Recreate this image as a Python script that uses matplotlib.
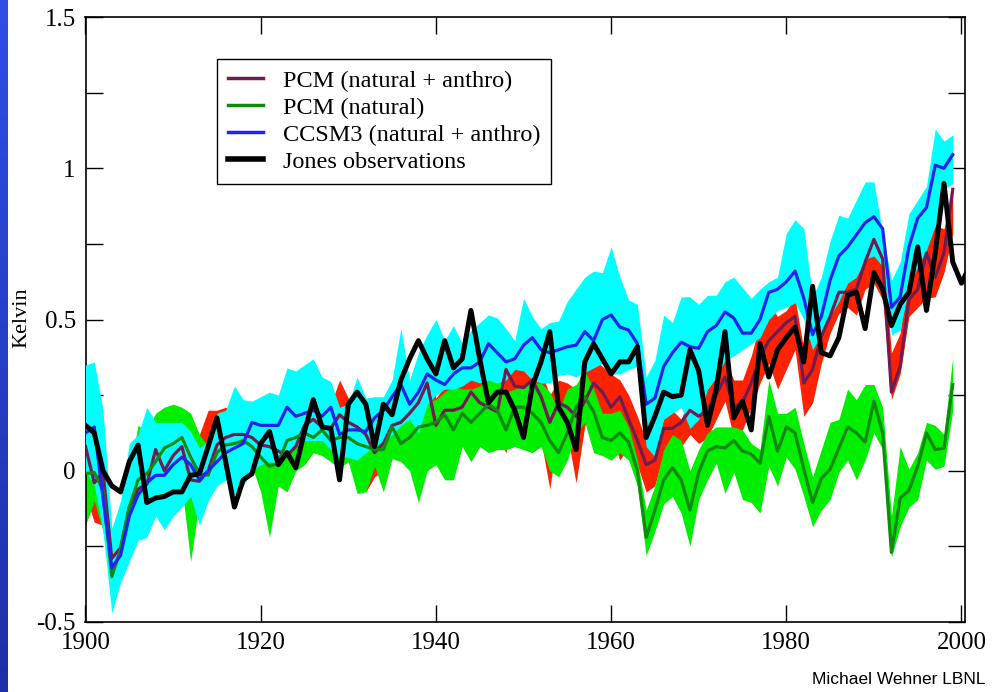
import numpy as np
import matplotlib
matplotlib.use("Agg")
import matplotlib.pyplot as plt
from matplotlib.ticker import MultipleLocator, FuncFormatter, FixedLocator
from matplotlib.lines import Line2D
from matplotlib.colors import LinearSegmentedColormap

# ---------------- data ----------------
years = list(range(1900, 2000))
obs_years = list(range(1900, 2002))

jones_obs = [
    0.15, 0.125, 0.0, -0.05, -0.07, 0.03, 0.085, -0.105, -0.09, -0.085,
    -0.07, -0.07, -0.015, -0.01, 0.08, 0.175, 0.03, -0.12, -0.03, -0.01,
    0.09, 0.13, 0.02, 0.06, 0.01, 0.13, 0.235, 0.145, 0.14, -0.03,
    0.22, 0.26, 0.22, 0.08, 0.22, 0.185, 0.3, 0.37, 0.43, 0.37,
    0.32, 0.43, 0.34, 0.37, 0.53, 0.37, 0.225, 0.26, 0.26, 0.2,
    0.11, 0.28, 0.36, 0.46, 0.21, 0.16, 0.07, 0.36, 0.42, 0.37,
    0.32, 0.36, 0.36, 0.41, 0.11, 0.18, 0.26, 0.245, 0.25, 0.40,
    0.33, 0.15, 0.27, 0.46, 0.175, 0.23, 0.135, 0.42, 0.31, 0.40,
    0.44, 0.475, 0.36, 0.61, 0.39, 0.38, 0.44, 0.58, 0.59, 0.47,
    0.655, 0.6, 0.48, 0.55, 0.59, 0.74, 0.53, 0.72, 0.95, 0.69,
    0.62, 0.68,
]

ccsm3_mean = [
    0.125, 0.145, -0.09, -0.32, -0.28, -0.15, -0.08, -0.04, -0.015, -0.015,
    0.02, 0.045, 0.02, -0.03, 0.0, 0.03, 0.06, 0.075, 0.09, 0.16,
    0.15, 0.15, 0.15, 0.21, 0.18, 0.19, 0.2, 0.18, 0.21, 0.12,
    0.135, 0.135, 0.13, 0.175, 0.2, 0.245, 0.285, 0.22, 0.26, 0.32,
    0.30, 0.285, 0.32, 0.34, 0.34, 0.36, 0.42, 0.39, 0.36, 0.37,
    0.415, 0.44, 0.40, 0.39, 0.40, 0.41, 0.415, 0.46, 0.43, 0.5,
    0.515, 0.475, 0.465, 0.42, 0.22, 0.24, 0.345, 0.39, 0.425, 0.41,
    0.405, 0.46, 0.48, 0.525, 0.505, 0.455, 0.455, 0.5, 0.59, 0.6,
    0.625, 0.66, 0.57, 0.45, 0.51, 0.63, 0.71, 0.74, 0.78, 0.82,
    0.84, 0.80, 0.54, 0.575, 0.74, 0.835, 0.87, 1.01, 1.0, 1.045,
]
ccsm3_upper = [
    0.35, 0.36, 0.2, -0.19, -0.1, 0.09, 0.12, 0.21, 0.16, 0.16,
    0.16, 0.16, 0.13, 0.075, 0.1, 0.19, 0.2, 0.28, 0.235, 0.23,
    0.245, 0.26, 0.25, 0.34, 0.33, 0.35, 0.37, 0.31, 0.295, 0.21,
    0.22, 0.31, 0.24, 0.245, 0.245, 0.3, 0.47, 0.3, 0.39, 0.45,
    0.5, 0.43, 0.48, 0.42, 0.465, 0.49, 0.515, 0.505, 0.47, 0.43,
    0.57, 0.51, 0.47, 0.49, 0.495, 0.56, 0.6, 0.64, 0.66, 0.655,
    0.74, 0.64, 0.565, 0.55, 0.31, 0.365, 0.515, 0.49, 0.575, 0.575,
    0.55, 0.58, 0.58, 0.625, 0.64, 0.605, 0.57, 0.6, 0.625, 0.64,
    0.785, 0.83, 0.8, 0.575, 0.64, 0.76, 0.845, 0.835, 0.895, 0.955,
    0.955, 0.785, 0.63, 0.69, 0.85, 0.895, 0.94, 1.13, 1.09, 1.11,
]
ccsm3_lower = [
    0.0, -0.05, -0.2, -0.47, -0.37, -0.3, -0.23, -0.22, -0.15, -0.195,
    -0.15, -0.12, -0.085, -0.18, -0.1, -0.05, -0.03, -0.08, -0.05, 0.0,
    0.02, 0.03, 0.025, 0.06, 0.08, 0.1, 0.1, 0.1, 0.07, 0.045,
    0.045, 0.035, 0.06, 0.08, 0.1, 0.12, 0.15, 0.17, 0.125, 0.22,
    0.25, 0.27, 0.27, 0.28, 0.3, 0.29, 0.3, 0.29, 0.3, 0.335,
    0.33, 0.3, 0.29, 0.29, 0.315, 0.32, 0.31, 0.325, 0.34, 0.355,
    0.32, 0.32, 0.335, 0.345, 0.08, 0.045, 0.17, 0.19, 0.21, 0.14,
    0.17, 0.27, 0.31, 0.365, 0.38, 0.4, 0.42, 0.44, 0.5, 0.53,
    0.54, 0.555, 0.5, 0.4, 0.45, 0.51, 0.56, 0.62, 0.64, 0.7,
    0.71, 0.675, 0.45, 0.465, 0.61, 0.675, 0.73, 0.81, 0.93, 0.95,
]

pcm_all_mean = [
    0.08, -0.04, -0.005, -0.29, -0.255, -0.12, -0.06, -0.045, 0.07, 0.0,
    0.05, 0.08, -0.03, -0.035, 0.0, 0.085, 0.11, 0.12, 0.12, 0.11,
    0.085, 0.08, 0.065, 0.05, 0.08, 0.15, 0.17, 0.145, 0.14, 0.185,
    0.16, 0.145, 0.12, 0.06, 0.09, 0.15, 0.16, 0.19, 0.225, 0.29,
    0.15, 0.2, 0.2, 0.21, 0.26, 0.225, 0.21, 0.195, 0.335, 0.28,
    0.275, 0.3, 0.245, 0.16, 0.225, 0.21, 0.18, 0.23, 0.29, 0.26,
    0.21, 0.245, 0.17, 0.1, 0.02, 0.035, 0.14, 0.14, 0.16, 0.2,
    0.18, 0.2, 0.25, 0.31, 0.21, 0.225, 0.29, 0.375, 0.43, 0.46,
    0.49, 0.51, 0.29, 0.335, 0.445, 0.51, 0.59, 0.59, 0.6, 0.69,
    0.765, 0.7, 0.26, 0.345, 0.565, 0.6, 0.72, 0.64, 0.72, 0.93,
]
pcm_all_upper = [
    0.15, 0.05, 0.08, -0.2, -0.17, -0.03, 0.03, 0.05, 0.15, 0.08,
    0.12, 0.15, 0.05, 0.12, 0.2, 0.2, 0.21, 0.2, 0.2, 0.19,
    0.17, 0.16, 0.15, 0.13, 0.16, 0.23, 0.25, 0.23, 0.22, 0.3,
    0.24, 0.23, 0.2, 0.14, 0.17, 0.23, 0.24, 0.27, 0.3, 0.37,
    0.24, 0.28, 0.28, 0.31, 0.34, 0.3, 0.29, 0.28, 0.46, 0.36,
    0.35, 0.38, 0.33, 0.25, 0.3, 0.29, 0.27, 0.36, 0.37, 0.345,
    0.32, 0.3, 0.25, 0.18, 0.1, 0.12, 0.2, 0.2, 0.17, 0.25,
    0.24, 0.27, 0.31, 0.37, 0.3, 0.3, 0.38, 0.49, 0.555, 0.51,
    0.53, 0.57, 0.4, 0.465, 0.53, 0.58, 0.66, 0.63, 0.68, 0.73,
    0.8, 0.74, 0.39, 0.455, 0.71, 0.785, 0.8, 0.81, 0.8, 0.945,
]
pcm_all_lower = [
    -0.08, -0.17, -0.18, -0.38, -0.33, -0.2, -0.13, -0.12, -0.02, -0.07,
    -0.03, 0.0, -0.1, -0.13, -0.08, 0.0, 0.03, 0.04, 0.04, 0.03,
    0.0, 0.0, -0.01, -0.03, 0.0, 0.07, 0.09, 0.06, 0.06, 0.1,
    0.08, 0.06, -0.07, -0.02, 0.0, 0.04, 0.08, 0.1, 0.14, 0.2,
    0.09, 0.12, 0.12, 0.13, 0.18, 0.15, 0.13, 0.11, 0.06, 0.2,
    0.19, 0.2, 0.1, -0.06, 0.14, 0.12, -0.04, 0.15, 0.2, 0.17,
    0.12, 0.035, 0.08, 0.02, -0.07, -0.05, 0.06, 0.07, 0.08, 0.12,
    0.09, 0.11, 0.17, 0.23, 0.11, 0.135, 0.21, 0.29, 0.355, 0.27,
    0.335, 0.4, 0.18, 0.225, 0.355, 0.455, 0.52, 0.54, 0.515, 0.6,
    0.62, 0.565, 0.235, 0.32, 0.51, 0.54, 0.57, 0.575, 0.655, 0.785,
]

pcm_nat_mean = [
    -0.01, -0.005, -0.065, -0.35, -0.26, -0.12, -0.03, -0.01, 0.03, 0.075,
    0.09, 0.11, 0.045, -0.01, -0.015, 0.06, 0.085, 0.09, 0.1, 0.08,
    0.045, 0.015, 0.025, 0.1, 0.11, 0.125, 0.11, 0.135, 0.1, 0.11,
    0.11, 0.09, 0.08, 0.07, 0.07, 0.145, 0.09, 0.11, 0.145, 0.15,
    0.16, 0.185, 0.135, 0.19, 0.16, 0.19, 0.22, 0.2, 0.135, 0.21,
    0.21, 0.19, 0.16, 0.1, 0.06, 0.125, 0.21, 0.245, 0.195, 0.11,
    0.1, 0.125, 0.095, 0.0, -0.22, -0.13, -0.03, 0.01, -0.03, -0.13,
    -0.005, 0.065, 0.08, 0.075, 0.1, 0.065, 0.055, 0.025, 0.18, 0.065,
    0.145, 0.125, 0.005, -0.105, -0.025, 0.005, 0.075, 0.145, 0.125, 0.095,
    0.23, 0.125, -0.27, -0.09, -0.065, 0.015, 0.125, 0.07, 0.075, 0.285,
]
pcm_nat_upper = [
    0.05, 0.05, 0.0, -0.3, -0.2, 0.0, 0.15, 0.13, 0.19, 0.21,
    0.22, 0.21, 0.19, 0.12, 0.08, 0.1, 0.17, 0.17, 0.18, 0.16,
    0.12, 0.1, 0.1, 0.17, 0.18, 0.2, 0.19, 0.21, 0.18, 0.19,
    0.19, 0.17, 0.16, 0.15, 0.15, 0.22, 0.17, 0.19, 0.22, 0.23,
    0.235, 0.26, 0.28, 0.27, 0.27, 0.28, 0.31, 0.31, 0.26, 0.27,
    0.28, 0.29, 0.29, 0.26, 0.2, 0.27, 0.285, 0.33, 0.27, 0.19,
    0.19, 0.2, 0.145, 0.035, -0.13, -0.05, 0.07, 0.12, 0.1, 0.0,
    0.07, 0.125, 0.145, 0.145, 0.145, 0.135, 0.09, 0.07, 0.3, 0.19,
    0.19, 0.21, 0.09, -0.02, 0.07, 0.16, 0.17, 0.27, 0.235, 0.285,
    0.285, 0.21, -0.15, 0.08, 0.005, 0.06, 0.16, 0.15, 0.12, 0.375,
]
pcm_nat_lower = [
    -0.18, -0.1, -0.2, -0.4, -0.33, -0.25, -0.12, -0.1, -0.05, -0.05,
    -0.02, -0.05, -0.3, -0.1, -0.05, -0.02, 0.0, 0.0, 0.0, 0.015,
    -0.07, -0.22, -0.05, -0.07, 0.0, 0.02, 0.06, 0.05, 0.03, 0.01,
    0.03, -0.075, -0.07, 0.015, -0.07, 0.04, 0.03, 0.0, -0.105, 0.0,
    0.02, -0.03, -0.03, 0.08, 0.03, 0.08, 0.06, 0.07, 0.07, 0.08,
    0.07, 0.06, 0.08, 0.0, -0.02, 0.035, 0.125, 0.16, 0.06, 0.05,
    0.035, 0.06, 0.035, -0.05, -0.28, -0.2, -0.11, -0.085, -0.14, -0.25,
    -0.095, -0.03, 0.025, -0.075, -0.005, -0.095, -0.105, -0.14, 0.015, -0.05,
    0.045, 0.005, -0.085, -0.185, -0.13, -0.095, -0.005, 0.035, -0.03, 0.035,
    0.125, 0.07, -0.285, -0.185, -0.12, -0.095, 0.035, 0.005, 0.015, 0.2,
]

legend_labels = ["PCM (natural + anthro)", "PCM (natural)",
                 "CCSM3 (natural + anthro)", "Jones observations"]
x_ticks = [1900, 1920, 1940, 1960, 1980, 2000]
credit = "Michael Wehner LBNL"

# ---------------- styles ----------------
RED_BAND = "#ff2200"
GREEN_BAND = "#00ee00"
CYAN_BAND = "#00ffff"
PURPLE = "#6e1c52"
DGREEN = "#108a10"
BLUE = "#2222ee"
SERIF = ["Liberation Serif", "DejaVu Serif"]

W, H = 1001, 692
fig = plt.figure(figsize=(W / 100, H / 100), dpi=100)
fig.patch.set_facecolor("white")

# left blue strip (slide edge)
strip = fig.add_axes([0, 0, 8 / W, 1])
cmap = LinearSegmentedColormap.from_list("s", ["#1c30a8", "#2e4ee6"])
strip.imshow(np.linspace(0, 1, 256).reshape(-1, 1), aspect="auto", cmap=cmap,
             origin="lower", extent=[0, 1, 0, 1])
strip.set_axis_off()

left, right, top, bottom = 85.5, 965.0, 17.0, 622.0
ax = fig.add_axes([left / W, 1 - bottom / H, (right - left) / W, (bottom - top) / H])

ax.fill_between(years, pcm_all_lower, pcm_all_upper, color=RED_BAND, lw=0, zorder=1)
ax.fill_between(years, pcm_nat_lower, pcm_nat_upper, color=GREEN_BAND, lw=0, zorder=2)
ax.fill_between(years, ccsm3_lower, ccsm3_upper, color=CYAN_BAND, lw=0, zorder=3)

ax.plot(years, pcm_all_mean, color=PURPLE, lw=2.3, zorder=4)
ax.plot(years, pcm_nat_mean, color=DGREEN, lw=2.3, zorder=5)
ax.plot(years, ccsm3_mean, color=BLUE, lw=2.3, zorder=6)
ax.plot(obs_years, jones_obs, color="black", lw=3.6, zorder=7)

ax.set_xlim(1900, 2000.4)
ax.set_ylim(-0.5, 1.5)
ax.xaxis.set_major_locator(FixedLocator(x_ticks))
ax.yaxis.set_major_locator(MultipleLocator(0.5))
ax.yaxis.set_minor_locator(MultipleLocator(0.25))
ax.yaxis.set_major_formatter(FuncFormatter(lambda v, p: "{:g}".format(v)))
ax.tick_params(which="both", direction="in", top=True, right=True,
               length=12, width=1.0, colors="black")
ax.tick_params(axis="x", pad=7)
ax.tick_params(axis="y", pad=7)
for lab in ax.get_xticklabels() + ax.get_yticklabels():
    lab.set_family(SERIF)
    lab.set_fontsize(18)
for s in ax.spines.values():
    s.set_linewidth(1.2)

fig.text(22 / W, 1 - 318 / H, "Kelvin", rotation=90, ha="center", va="center",
         family=SERIF, fontsize=16)

handles = [Line2D([], [], color=PURPLE, lw=2.5),
           Line2D([], [], color=DGREEN, lw=2.5),
           Line2D([], [], color=BLUE, lw=2.5),
           Line2D([], [], color="black", lw=4.0)]
leg = ax.legend(handles, legend_labels, loc="upper left",
                bbox_to_anchor=(217 / W, 1 - 59 / H), bbox_transform=fig.transFigure,
                borderaxespad=0, frameon=True, fancybox=False, shadow=False,
                edgecolor="black", framealpha=1, prop={"family": SERIF, "size": 17.5},
                handlelength=1.45, handletextpad=0.8, labelspacing=0.2, borderpad=0.45)
leg.get_frame().set_linewidth(1.0)
leg.set_zorder(10)

fig.text(986 / W, 1 - 679 / H, credit, ha="right", va="center",
         family=["Liberation Sans", "DejaVu Sans"], fontsize=12.5)

fig.savefig("out.png", dpi=100)
